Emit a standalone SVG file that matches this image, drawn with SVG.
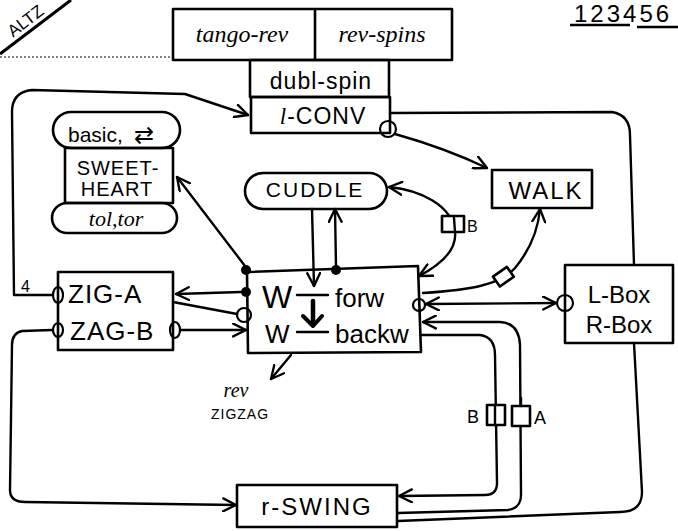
<svg xmlns="http://www.w3.org/2000/svg" width="678" height="531" viewBox="0 0 678 531">
<style>
.bx{fill:none;stroke:#000;stroke-width:2.6;stroke-linejoin:round}
.ln{fill:none;stroke:#000;stroke-width:2.4;stroke-linecap:round;stroke-linejoin:round}
.t{font-family:"Liberation Sans",Arial,sans-serif;fill:#000}
.s{font-family:"Liberation Serif","DejaVu Serif",serif;font-style:italic;fill:#000}
.dot{fill:#000}
.oc{fill:none;stroke:#000;stroke-width:2.2}
</style>
<defs>
<marker id="ar" viewBox="0 0 14 14" refX="13" refY="7" markerWidth="15" markerHeight="15" markerUnits="userSpaceOnUse" orient="auto-start-reverse">
<path d="M1,1 L13,7 L1,13" fill="none" stroke="#000" stroke-width="2.2" stroke-linecap="round" stroke-linejoin="round"/>
</marker>
</defs>
<rect width="678" height="531" fill="#fff"/>

<g id="corner-title">
<line x1="0" y1="54" x2="71" y2="0" stroke="#000" stroke-width="3"/>
<text class="t" font-size="17" transform="translate(29,25.5) rotate(-37.3)" x="0" y="0" text-anchor="middle">ALTZ</text>
<line x1="0" y1="57" x2="172" y2="57" stroke="#000" stroke-width="1" stroke-dasharray="2,2"/>
</g>

<g id="counts">
<text class="t" font-size="24" x="574" y="22" letter-spacing="3">123456</text>
<line x1="570" y1="25" x2="630" y2="25" stroke="#000" stroke-width="2.5"/>
<line x1="637" y1="27" x2="678" y2="27" stroke="#000" stroke-width="2.5"/>
</g>

<g id="tango-rev-spins">
<rect class="bx" x="173" y="9" width="279" height="51"/>
<line class="bx" x1="315" y1="9" x2="315" y2="60"/>
<text class="s" font-size="24" x="242" y="42" text-anchor="middle">tango-rev</text>
<text class="s" font-size="24" x="382" y="42" text-anchor="middle">rev-spins</text>
</g>

<g id="dubl-spin">
<rect class="bx" x="250" y="60" width="139" height="37"/>
<text class="t" font-size="23" x="321" y="89" text-anchor="middle" letter-spacing="1">dubl-spin</text>
</g>

<g id="l-conv">
<rect class="bx" x="251" y="97" width="139" height="36"/>
<text class="t" font-size="23" x="323" y="124" text-anchor="middle" letter-spacing="1"><tspan class="s">l</tspan>-CONV</text>
<circle class="oc" cx="388" cy="129" r="8"/>
</g>

<g id="sweetheart">
<rect class="bx" x="53" y="112" width="127" height="36" rx="18"/>
<text class="t" font-size="21" x="68" y="142">basic,</text>
<text font-family="DejaVu Sans,sans-serif" font-size="24" x="134" y="143">⇄</text>
<rect class="bx" x="65" y="148" width="108" height="55"/>
<text class="t" font-size="20" x="118" y="175" text-anchor="middle" letter-spacing="1">SWEET-</text>
<text class="t" font-size="20" x="117" y="196" text-anchor="middle" letter-spacing="1">HEART</text>
<rect class="bx" x="52" y="203" width="125" height="30" rx="15"/>
<text class="s" font-size="22" x="116" y="226" text-anchor="middle">tol,tor</text>
</g>

<g id="cuddle">
<rect class="bx" x="245" y="173" width="142" height="36" rx="18"/>
<text class="t" font-size="21" x="315" y="197" text-anchor="middle" letter-spacing="2">CUDDLE</text>
</g>

<g id="walk">
<rect class="bx" x="492" y="170" width="100" height="38"/>
<text class="t" font-size="24" x="546" y="199" text-anchor="middle" letter-spacing="2">WALK</text>
</g>

<g id="zig-zag">
<rect class="bx" x="58" y="272" width="115" height="78"/>
<text class="t" font-size="26" x="68" y="303" letter-spacing="1">ZIG-A</text>
<text class="t" font-size="26" x="70" y="340" letter-spacing="1">ZAG-B</text>
<ellipse class="oc" cx="58" cy="295" rx="5" ry="8"/>
<ellipse class="oc" cx="58" cy="330" rx="5" ry="7"/>
<ellipse class="oc" cx="175" cy="330" rx="5" ry="8"/>
</g>

<g id="w-box">
<polygon class="bx" points="247,272 418,266 421,352 248,353"/>
<text class="t" font-size="32" x="262" y="308">W</text>
<text class="t" font-size="26" x="265" y="343">W</text>
<line class="ln" x1="297" y1="295" x2="328" y2="295"/>
<line class="ln" x1="297" y1="332" x2="328" y2="332"/>
<text class="t" font-size="26" x="335" y="307">forw</text>
<text class="t" font-size="26" x="335" y="343">backw</text>
<line x1="313" y1="301" x2="313" y2="324" stroke="#000" stroke-width="4.5" stroke-linecap="round"/>
<path d="M303,316 L313,326 L322,316" fill="none" stroke="#000" stroke-width="4" stroke-linecap="round" stroke-linejoin="round"/>
<circle class="dot" cx="246" cy="270" r="5"/>
<circle class="dot" cx="246" cy="292" r="5"/>
<circle class="dot" cx="336" cy="270" r="5"/>
<circle class="oc" cx="244" cy="315" r="7"/>
<circle class="oc" cx="419" cy="305" r="6"/>
</g>

<g id="l-box">
<rect class="bx" x="565" y="265" width="108" height="78"/>
<text class="t" font-size="24" x="619" y="303" text-anchor="middle">L-Box</text>
<text class="t" font-size="24" x="619" y="333" text-anchor="middle">R-Box</text>
<circle class="oc" cx="565" cy="303" r="8"/>
</g>

<g id="r-swing">
<rect class="bx" x="237" y="485" width="160" height="42"/>
<text class="t" font-size="24" x="317" y="515" text-anchor="middle" letter-spacing="2">r-SWING</text>
</g>

<g id="rev-zigzag">
<text class="s" font-size="20" x="236" y="397" text-anchor="middle">rev</text>
<text class="t" font-size="14" x="240" y="419" text-anchor="middle" letter-spacing="1">ZIGZAG</text>
</g>

<g id="connectors">
<path class="ln" d="M53,295 L14,295 L12,112 Q12,92 32,90 L185,94 L248,115" marker-end="url(#ar)"/>
<text class="t" font-size="16" x="21" y="292">4</text>
<path class="ln" d="M395,134 Q445,148 487,168" marker-end="url(#ar)"/>
<path class="ln" d="M390,113 L612,112 Q630,115 630,135 L634,265"/>
<path class="ln" d="M634,343 L642,492 Q642,512 620,512 L398,521"/>
<path class="ln" d="M422,335 L480,335 Q495,337 495,355 L497,483 Q497,495 485,495 L399,496" marker-end="url(#ar)"/>
<path class="ln" d="M398,513 L508,510 Q521,508 521,495 L520,345 Q519,323 500,322 L423,322" marker-end="url(#ar)"/>
<rect class="bx" x="487" y="405" width="18" height="20" style="fill:#fff"/>
<rect class="bx" x="512" y="406" width="18" height="20" style="fill:#fff"/>
<line class="ln" x1="495" y1="405" x2="495" y2="425"/>
<line class="ln" x1="521" y1="398" x2="521" y2="406"/>
<text class="t" font-size="18" x="467" y="423">B</text>
<text class="t" font-size="18" x="534" y="424">A</text>
<path class="ln" d="M52,330 L22,331 Q12,333 12,345 L10,490 Q10,502 25,502 L236,505" marker-end="url(#ar)"/>
<path class="ln" d="M241,292 L176,294" marker-end="url(#ar)"/>
<path class="ln" d="M173,302 L237,314"/>
<path class="ln" d="M181,330 L246,330" marker-end="url(#ar)"/>
<path class="ln" d="M245,266 L177,177" marker-end="url(#ar)"/>
<path class="ln" d="M312,209 L314,286" marker-end="url(#ar)"/>
<path class="ln" d="M336,266 L335,209" marker-end="url(#ar)"/>
<path class="ln" d="M389,187 C420,190 452,205 455,232 C457,250 440,265 419,276" marker-start="url(#ar)" marker-end="url(#ar)"/>
<rect class="bx" x="442" y="216" width="22" height="16" style="fill:#fff"/>
<line class="ln" x1="454" y1="218" x2="455" y2="232"/>
<text class="t" font-size="16" x="467" y="232">B</text>
<path class="ln" d="M423,293 C470,290 500,285 515,268 C530,250 538,230 540,209" marker-end="url(#ar)"/>
<rect class="bx" x="495" y="271" width="17" height="12" transform="rotate(-35 503 277)" style="fill:#fff"/>
<path class="ln" d="M426,304 L556,303" marker-start="url(#ar)" marker-end="url(#ar)"/>
<path class="ln" d="M291,355 L271,379" marker-end="url(#ar)"/>
</g>
</svg>
